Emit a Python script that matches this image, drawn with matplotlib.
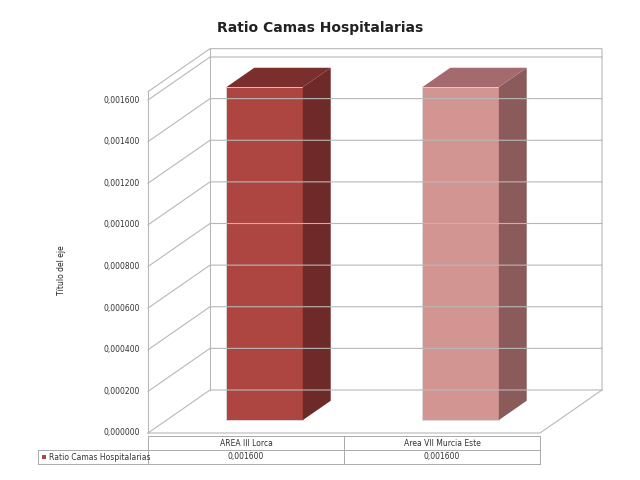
import matplotlib.pyplot as plt
from matplotlib.patches import Polygon

categories = ["AREA III Lorca", "Area VII Murcia Este"]
values = [0.0016, 0.0016]
series_name = "Ratio Camas Hospitalarias"
yticks = [0.0, 0.0002, 0.0004, 0.0006, 0.0008, 0.0010, 0.0012, 0.0014, 0.0016]
front_colors = ["#ad4640", "#d39592"]
side_colors = ["#6d2a29", "#8b5a5a"]
top_colors = ["#7b2f2d", "#a36b6d"]

# oblique projection into pixel space
X0, X1 = 148, 540
Y0, PX_PER_UNIT = 433, 333 / 0.0016
DX, DY = 62, -43
WALL_TOP = 0.00164


def proj(cx, v, d):
    # cx: category position 0..len(categories), v: value, d: depth 0..1
    x = X0 + cx * (X1 - X0) / len(categories) + d * DX
    y = Y0 - v * PX_PER_UNIT + d * DY
    return (x, y)


fig = plt.figure(figsize=(6.4, 4.8), dpi=100)
ax = fig.add_axes([0, 0, 1, 1])
ax.set_xlim(0, 640)
ax.set_ylim(480, 0)
ax.axis("off")

grid = "#b8b8b8"
n = len(categories)
# walls and floor
for t in yticks:
    xa, ya = proj(0, t, 0)
    xb, yb = proj(0, t, 1)
    xc, yc = proj(n, t, 1)
    ax.plot([xa, xb, xc], [ya, yb, yc], color=grid, lw=0.8)
for pts in [[proj(0, 0, 0), proj(0, WALL_TOP, 0)],
            [proj(0, WALL_TOP, 0), proj(0, WALL_TOP, 1), proj(n, WALL_TOP, 1), proj(n, 0, 1)],
            [proj(0, 0, 0), proj(n, 0, 0), proj(n, 0, 1)],
            [proj(0, 0, 1), proj(0, WALL_TOP, 1)]]:
    ax.plot([p[0] for p in pts], [p[1] for p in pts], color=grid, lw=0.8)

# bars
bw = 0.39
d0, d1 = 0.3, 0.75
for i, v in enumerate(values):
    l, r = i + 0.5 - bw / 2, i + 0.5 + bw / 2
    front = [proj(l, 0, d0), proj(r, 0, d0), proj(r, v, d0), proj(l, v, d0)]
    side = [proj(r, 0, d0), proj(r, 0, d1), proj(r, v, d1), proj(r, v, d0)]
    top = [proj(l, v, d0), proj(r, v, d0), proj(r, v, d1), proj(l, v, d1)]
    ax.add_patch(Polygon(front, closed=True, fc=front_colors[i], ec="#dddddd", lw=0.6))
    ax.add_patch(Polygon(side, closed=True, fc=side_colors[i], ec="none"))
    ax.add_patch(Polygon(top, closed=True, fc=top_colors[i], ec="none"))

# y tick labels
for t in yticks:
    x, y = proj(0, t, 0)
    ax.text(x - 8, y, f"{t:.6f}".replace(".", ","), ha="right", va="center", fontsize=5.5, color="#333333")

ax.text(62, 270, "Título del eje", rotation=90, ha="center", va="center", fontsize=5.5, color="#222222")
ax.text(320, 28, series_name, ha="center", va="center", fontsize=10, fontweight="bold", color="#222222")

# data table
tl, tm = 38, X0
r0, r1, r2 = 436, 450, 464
tc = "#aaaaaa"
ax.plot([tm, X1], [r0, r0], color=tc, lw=0.7)
ax.plot([tl, X1], [r1, r1], color=tc, lw=0.7)
ax.plot([tl, X1], [r2, r2], color=tc, lw=0.7)
ax.plot([tl, tl], [r1, r2], color=tc, lw=0.7)
for k in range(n + 1):
    xk = X0 + k * (X1 - X0) / n
    ax.plot([xk, xk], [r0, r2], color=tc, lw=0.7)
for i, c in enumerate(categories):
    xc = X0 + (i + 0.5) * (X1 - X0) / n
    ax.text(xc, (r0 + r1) / 2, c, ha="center", va="center", fontsize=5.5, color="#333333")
    ax.text(xc, (r1 + r2) / 2, f"{values[i]:.6f}".replace(".", ","), ha="center", va="center",
            fontsize=5.5, color="#333333")
ax.add_patch(Polygon([(42, 455), (46, 455), (46, 459), (42, 459)], closed=True, fc=front_colors[0]))
ax.text(49, (r1 + r2) / 2, series_name, ha="left", va="center", fontsize=5.5, color="#333333")

fig.savefig("out.png", dpi=100)
